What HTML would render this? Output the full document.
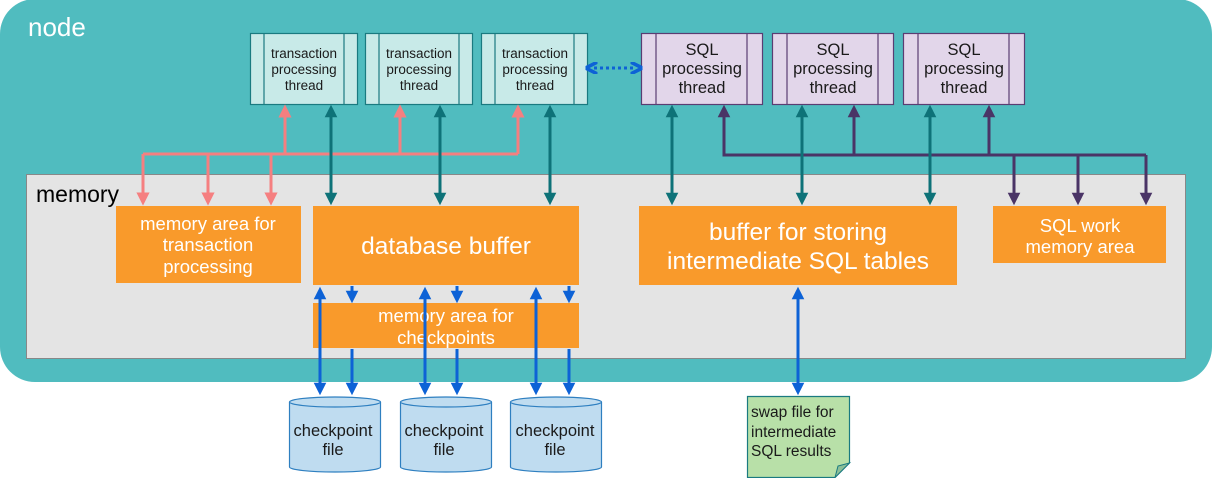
<!DOCTYPE html>
<html><head><meta charset="utf-8"><style>
html,body{margin:0;padding:0;background:#fff;}
svg{display:block;}
text{font-family:"Liberation Sans",sans-serif;}
</style></head><body>
<svg width="1212" height="478" viewBox="0 0 1212 478" xmlns="http://www.w3.org/2000/svg">
<defs>
<marker id="ap" viewBox="0 0 10 10" refX="5" refY="5" markerWidth="4.4" markerHeight="4.4" orient="auto-start-reverse"><path d="M0,0 L10,5 L0,10 z" fill="#f57f80"/></marker>
<marker id="at" viewBox="0 0 10 10" refX="5" refY="5" markerWidth="4.2" markerHeight="4.2" orient="auto-start-reverse"><path d="M0,0 L10,5 L0,10 z" fill="#0e7278"/></marker>
<marker id="au" viewBox="0 0 10 10" refX="5" refY="5" markerWidth="4.2" markerHeight="4.2" orient="auto-start-reverse"><path d="M0,0 L10,5 L0,10 z" fill="#4a3466"/></marker>
<marker id="ab" viewBox="0 0 10 10" refX="5" refY="5" markerWidth="4.2" markerHeight="4.2" orient="auto-start-reverse"><path d="M0,0 L10,5 L0,10 z" fill="#0d62d6"/></marker>
<marker id="ad" viewBox="0 0 10 10" refX="3" refY="5" markerWidth="4" markerHeight="4" orient="auto-start-reverse"><path d="M0,0 L10,5 L0,10" fill="none" stroke="#0d62d6" stroke-width="3"/></marker>
</defs>
<rect x="0" y="-1" width="1212" height="383" rx="35" fill="#50bcbf"/>
<text x="28" y="36" font-size="26" fill="#fff">node</text>
<rect x="26.5" y="174.5" width="1159" height="184" fill="#e4e4e4" stroke="#888" stroke-width="1"/>
<text x="36" y="202" font-size="23" fill="#000">memory</text>

<g fill="#c8eae8" stroke="#1a7a80" stroke-width="1.2">
<rect x="250.5" y="33.5" width="107" height="71"/><line x1="264" y1="33.5" x2="264" y2="104.5"/><line x1="344" y1="33.5" x2="344" y2="104.5"/>
<rect x="365.5" y="33.5" width="107" height="71"/><line x1="379" y1="33.5" x2="379" y2="104.5"/><line x1="459" y1="33.5" x2="459" y2="104.5"/>
<rect x="481.5" y="33.5" width="106" height="71"/><line x1="495" y1="33.5" x2="495" y2="104.5"/><line x1="574" y1="33.5" x2="574" y2="104.5"/>
</g>
<g font-size="13.5" fill="#1a1a1a" text-anchor="middle">
<text x="304" y="58">transaction</text><text x="304" y="74">processing</text><text x="304" y="90">thread</text>
<text x="419" y="58">transaction</text><text x="419" y="74">processing</text><text x="419" y="90">thread</text>
<text x="535" y="58">transaction</text><text x="535" y="74">processing</text><text x="535" y="90">thread</text>
</g>
<g fill="#e2d6ea" stroke="#5a3d72" stroke-width="1.2">
<rect x="641.5" y="33.5" width="121" height="71"/><line x1="656" y1="33.5" x2="656" y2="104.5"/><line x1="747" y1="33.5" x2="747" y2="104.5"/>
<rect x="772.5" y="33.5" width="121" height="71"/><line x1="787" y1="33.5" x2="787" y2="104.5"/><line x1="878" y1="33.5" x2="878" y2="104.5"/>
<rect x="903.5" y="33.5" width="121" height="71"/><line x1="918" y1="33.5" x2="918" y2="104.5"/><line x1="1009" y1="33.5" x2="1009" y2="104.5"/>
</g>
<g font-size="16.5" fill="#1a1a1a" text-anchor="middle">
<text x="702" y="55">SQL</text><text x="702" y="74">processing</text><text x="702" y="93">thread</text>
<text x="833" y="55">SQL</text><text x="833" y="74">processing</text><text x="833" y="93">thread</text>
<text x="964" y="55">SQL</text><text x="964" y="74">processing</text><text x="964" y="93">thread</text>
</g>
<line x1="594" y1="68" x2="634" y2="68" stroke="#0d62d6" stroke-width="3" stroke-dasharray="3,3" marker-start="url(#ad)" marker-end="url(#ad)"/>

<g stroke="#f57f80" stroke-width="3" fill="none">
<polyline points="143,154 518,154"/>
<line x1="285" y1="154" x2="285" y2="111" marker-end="url(#ap)"/>
<line x1="400" y1="154" x2="400" y2="111" marker-end="url(#ap)"/>
<line x1="518" y1="154" x2="518" y2="111" marker-end="url(#ap)"/>
<line x1="143" y1="154" x2="143" y2="199" marker-end="url(#ap)"/>
<line x1="208" y1="154" x2="208" y2="199" marker-end="url(#ap)"/>
<line x1="271" y1="154" x2="271" y2="199" marker-end="url(#ap)"/>
</g>
<g stroke="#4a3466" stroke-width="3" fill="none">
<polyline points="724,112 724,155 1146,155"/>
<line x1="724" y1="155" x2="724" y2="111" marker-end="url(#au)"/>
<line x1="854" y1="155" x2="854" y2="111" marker-end="url(#au)"/>
<line x1="989" y1="155" x2="989" y2="111" marker-end="url(#au)"/>
<line x1="1014" y1="155" x2="1014" y2="199" marker-end="url(#au)"/>
<line x1="1078" y1="155" x2="1078" y2="199" marker-end="url(#au)"/>
<line x1="1146" y1="155" x2="1146" y2="199" marker-end="url(#au)"/>
</g>
<g stroke="#0e7278" stroke-width="3">
<line x1="331" y1="111" x2="331" y2="199" marker-start="url(#at)" marker-end="url(#at)"/>
<line x1="440" y1="111" x2="440" y2="199" marker-start="url(#at)" marker-end="url(#at)"/>
<line x1="550" y1="111" x2="550" y2="199" marker-start="url(#at)" marker-end="url(#at)"/>
<line x1="672" y1="111" x2="672" y2="199" marker-start="url(#at)" marker-end="url(#at)"/>
<line x1="802" y1="111" x2="802" y2="199" marker-start="url(#at)" marker-end="url(#at)"/>
<line x1="930" y1="111" x2="930" y2="199" marker-start="url(#at)" marker-end="url(#at)"/>
</g>

<g fill="#f99a2b">
<rect x="116" y="206" width="185" height="77"/>
<rect x="313" y="206" width="266" height="79"/>
<rect x="639" y="206" width="318" height="79"/>
<rect x="993" y="206" width="173" height="57"/>
<rect x="313" y="303" width="266" height="45"/>
</g>
<g fill="#fff" text-anchor="middle">
<text x="208" y="230" font-size="18.5">memory area for</text>
<text x="208" y="251" font-size="18.5">transaction</text>
<text x="208" y="273" font-size="18.5">processing</text>
<text x="446" y="254" font-size="24.5">database buffer</text>
<text x="798" y="240" font-size="24.5">buffer for storing</text>
<text x="798" y="269" font-size="24.5">intermediate SQL tables</text>
<text x="1080" y="232" font-size="18.5">SQL work</text>
<text x="1080" y="253" font-size="18.5">memory area</text>
<text x="446" y="322" font-size="18.5">memory area for</text>
<text x="446" y="344" font-size="18.5">checkpoints</text>
</g>

<g stroke="#0d62d6" stroke-width="3">
<line x1="320" y1="293" x2="320" y2="389" marker-start="url(#ab)" marker-end="url(#ab)"/>
<line x1="425" y1="293" x2="425" y2="389" marker-start="url(#ab)" marker-end="url(#ab)"/>
<line x1="536" y1="293" x2="536" y2="389" marker-start="url(#ab)" marker-end="url(#ab)"/>
<line x1="352" y1="286" x2="352" y2="297" marker-end="url(#ab)"/>
<line x1="457" y1="286" x2="457" y2="297" marker-end="url(#ab)"/>
<line x1="569" y1="286" x2="569" y2="297" marker-end="url(#ab)"/>
<line x1="352" y1="349" x2="352" y2="389" marker-end="url(#ab)"/>
<line x1="457" y1="349" x2="457" y2="389" marker-end="url(#ab)"/>
<line x1="569" y1="349" x2="569" y2="389" marker-end="url(#ab)"/>
<line x1="798" y1="293" x2="798" y2="389" marker-start="url(#ab)" marker-end="url(#ab)"/>
</g>

<g fill="#bfdcf0" stroke="#2e7fc0" stroke-width="1.2">
<path d="M289.5,402 L289.5,467 A45.5,5 0 0 0 380.5,467 L380.5,402"/><ellipse cx="335" cy="402" rx="45.5" ry="5"/>
<path d="M400.5,402 L400.5,467 A45.5,5 0 0 0 491.5,467 L491.5,402"/><ellipse cx="446" cy="402" rx="45.5" ry="5"/>
<path d="M510.5,402 L510.5,467 A45.5,5 0 0 0 601.5,467 L601.5,402"/><ellipse cx="556" cy="402" rx="45.5" ry="5"/>
</g>
<g font-size="16.5" fill="#1a1a1a" text-anchor="middle">
<text x="333" y="436">checkpoint</text><text x="333" y="455">file</text>
<text x="444" y="436">checkpoint</text><text x="444" y="455">file</text>
<text x="555" y="436">checkpoint</text><text x="555" y="455">file</text>
</g>

<path d="M747.5,396.5 L849.5,396.5 L849.5,463 L835,477.5 L747.5,477.5 Z" fill="#b8e0a8" stroke="#1a7a80" stroke-width="1.2"/>
<path d="M835,477.5 L838,466 L849.5,463 Z" fill="#8cbf98" stroke="#1a7a80" stroke-width="1"/>
<g font-size="15.5" fill="#1a1a1a">
<text x="751" y="417">swap file for</text>
<text x="751" y="437">intermediate</text>
<text x="751" y="456">SQL results</text>
</g>
</svg>
</body></html>
